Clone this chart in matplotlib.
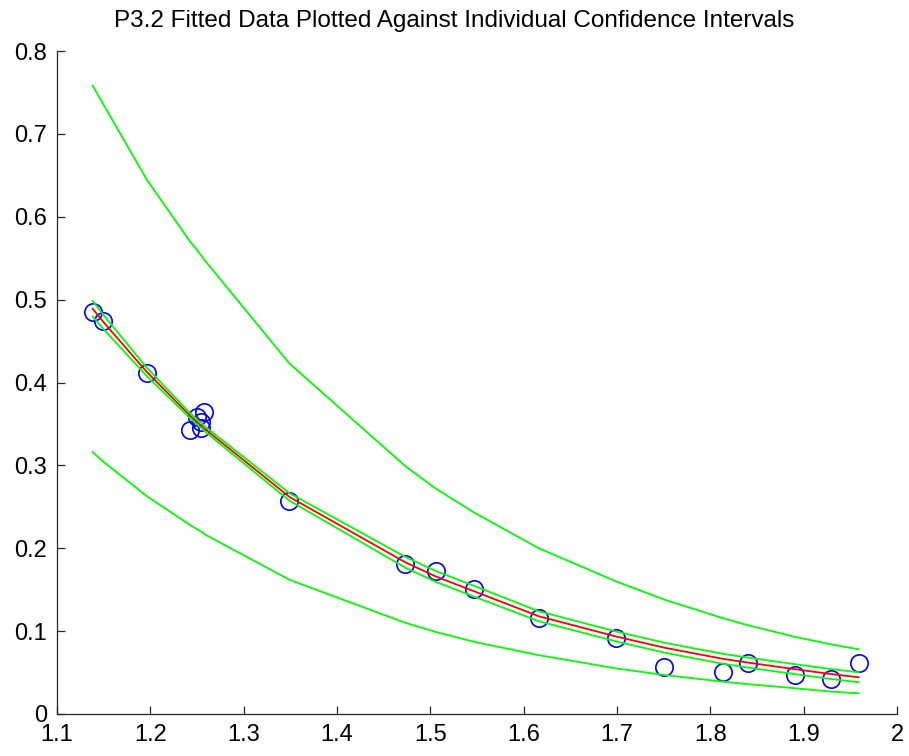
import matplotlib
matplotlib.use("Agg")
import matplotlib.pyplot as plt
from matplotlib import font_manager

# ---- data ----
data_x = [1.1382, 1.1489, 1.196, 1.2425, 1.250, 1.2547, 1.2546, 1.2578, 1.3489,
          1.4732, 1.5057, 1.547, 1.616, 1.699, 1.7507, 1.8136, 1.8404, 1.891,
          1.9293, 1.9589]
data_y = [0.4853, 0.4744, 0.411, 0.3422, 0.3586, 0.3523, 0.3446, 0.3647, 0.257,
          0.1806, 0.1725, 0.1504, 0.1162, 0.092, 0.0571, 0.0507, 0.0619, 0.0467,
          0.0426, 0.0615]

line_x = [1.1382, 1.1489, 1.196, 1.2425, 1.250, 1.2546, 1.2547, 1.2578, 1.3489,
          1.4732, 1.5057, 1.547, 1.616, 1.699, 1.7507, 1.8136, 1.8404, 1.891,
          1.9293, 1.9589]
fit_y = [0.489, 0.474, 0.413, 0.360, 0.352, 0.348, 0.348, 0.3445, 0.262, 0.183,
         0.166, 0.148, 0.118, 0.0935, 0.080, 0.0665, 0.062, 0.054, 0.0482, 0.0443]
upper_in = [0.4985, 0.4825, 0.418, 0.363, 0.355, 0.351, 0.351, 0.3475, 0.2665,
            0.1895, 0.1725, 0.1545, 0.124, 0.0995, 0.086, 0.0725, 0.068, 0.060,
            0.0542, 0.0503]
lower_in = [0.4795, 0.4655, 0.408, 0.357, 0.349, 0.345, 0.345, 0.3415, 0.2575,
            0.1765, 0.1595, 0.1415, 0.112, 0.0875, 0.074, 0.0605, 0.056, 0.048,
            0.0422, 0.0383]
upper_out = [0.758, 0.737, 0.645, 0.570, 0.560, 0.553, 0.553, 0.548, 0.423,
             0.299, 0.272, 0.243, 0.200, 0.160, 0.138, 0.1155, 0.107, 0.093,
             0.084, 0.078]
lower_out = [0.316, 0.305, 0.263, 0.228, 0.223, 0.220, 0.220, 0.217, 0.162,
             0.110, 0.099, 0.087, 0.071, 0.055, 0.047, 0.039, 0.036, 0.031,
             0.027, 0.025]

x_ticks = [1.1, 1.2, 1.3, 1.4, 1.5, 1.6, 1.7, 1.8, 1.9, 2.0]
x_tick_labels = ["1.1", "1.2", "1.3", "1.4", "1.5", "1.6", "1.7", "1.8", "1.9", "2"]
y_ticks = [0, 0.1, 0.2, 0.3, 0.4, 0.5, 0.6, 0.7, 0.8]
y_tick_labels = ["0", "0.1", "0.2", "0.3", "0.4", "0.5", "0.6", "0.7", "0.8"]
title = "P3.2 Fitted Data Plotted Against Individual Confidence Intervals"

# ---- font ----
avail = {f.name for f in font_manager.fontManager.ttflist}
fam = []
for cand in ["Liberation Sans Narrow", "Liberation Sans", "DejaVu Sans"]:
    if cand in avail:
        fam.append(cand)
plt.rcParams["font.family"] = fam

W, H = 909, 756
fig = plt.figure(figsize=(W / 100, H / 100), dpi=100)
left, right, bottom, top = 57, 897, 714, 51
ax = fig.add_axes([left / W, (H - bottom) / H, (right - left) / W, (bottom - top) / H])

ax.plot(data_x, data_y, linestyle="none", marker="o", markersize=12.5,
        markerfacecolor="none", markeredgecolor="#0000ff", markeredgewidth=1.2)
ax.plot(line_x, fit_y, color="#ff0000", linewidth=1.3)
for arr in (upper_in, lower_in, upper_out, lower_out):
    ax.plot(line_x, arr, color="#00ff00", linewidth=1.3)

ax.set_xlim(1.1, 2.0)
ax.set_ylim(0, 0.8)
ax.set_xticks(x_ticks)
ax.set_xticklabels(x_tick_labels)
ax.set_yticks(y_ticks)
ax.set_yticklabels(y_tick_labels)
for s in ("top", "right"):
    ax.spines[s].set_visible(False)
for s in ("left", "bottom"):
    ax.spines[s].set_color("#262626")
    ax.spines[s].set_linewidth(0.9)
ax.tick_params(direction="in", length=6, width=0.9, color="#262626",
               labelsize=17, pad=7, labelcolor="#000000")

fig.text(454 / W, 1 - 21 / H, title, ha="center", va="center", fontsize=17.5,
         color="#000000")

fig.savefig("out.png", dpi=100)
